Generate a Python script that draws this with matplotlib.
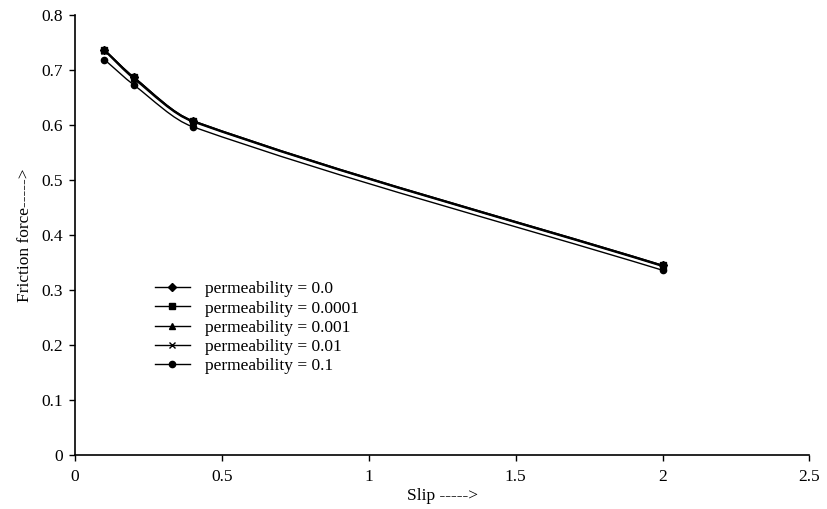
import numpy as np
import matplotlib.pyplot as plt
from matplotlib.path import Path
from matplotlib.patches import PathPatch

plt.rcParams['font.family'] = ['Liberation Serif', 'DejaVu Serif']

# Datos
slip = [0.1, 0.2, 0.4, 2.0]
etiquetas = ["permeability = 0.0", "permeability = 0.0001", "permeability = 0.001",
             "permeability = 0.01", "permeability = 0.1"]
f_00 = [0.737, 0.687, 0.608, 0.345]
f_00001 = [0.737, 0.687, 0.608, 0.345]
f_0001 = [0.736, 0.686, 0.607, 0.344]
f_001 = [0.735, 0.684, 0.606, 0.343]
f_01 = [0.719, 0.673, 0.597, 0.336]

series = [f_00, f_00001, f_0001, f_001, f_01]
marcadores = ['D', 's', '^', 'x', 'o']
tamanos = [4.5, 4.5, 5, 5, 4.5]


def curva_suave(x, y):
    # Hermite cubica dibujada como Bezier (linea suavizada)
    x = np.asarray(x, float)
    y = np.asarray(y, float)
    h = np.diff(x)
    d = np.diff(y) / h
    m = np.zeros(len(x))
    m[0] = d[0]
    m[-1] = d[-1]
    for k in range(1, len(x) - 1):
        m[k] = (h[k] * d[k] + h[k - 1] * d[k - 1]) / (h[k] + h[k - 1])
    verts = [(x[0], y[0])]
    codes = [Path.MOVETO]
    for k in range(len(x) - 1):
        verts += [(x[k] + h[k] / 3, y[k] + m[k] * h[k] / 3),
                  (x[k + 1] - h[k] / 3, y[k + 1] - m[k + 1] * h[k] / 3),
                  (x[k + 1], y[k + 1])]
        codes += [Path.CURVE4] * 3
    return Path(verts, codes)


fig = plt.figure(figsize=(8.27, 5.09), dpi=100)
ax = fig.add_axes([0.0907, 0.106, 0.888, 0.8645])

for k in range(len(series)):
    ax.add_patch(PathPatch(curva_suave(slip, series[k]), fill=False, edgecolor='black', lw=1.0))
    ax.plot(slip, series[k], linestyle='none', marker=marcadores[k], color='black',
            markersize=tamanos[k], markeredgewidth=1.0)
    ax.plot([], [], color='black', lw=1.0, marker=marcadores[k], markersize=tamanos[k],
            label=etiquetas[k])

ax.set_xlim(0, 2.5)
ax.set_ylim(0, 0.8)
ax.set_xticks([0, 0.5, 1, 1.5, 2, 2.5])
ax.set_xticklabels(["0", "0.5", "1", "1.5", "2", "2.5"])
ax.set_yticks(np.arange(0, 0.81, 0.1))
ax.set_yticklabels(["0", "0.1", "0.2", "0.3", "0.4", "0.5", "0.6", "0.7", "0.8"])
ax.tick_params(labelsize=12.5, length=4, width=1)
ax.tick_params(axis='x', pad=6)
ax.tick_params(axis='y', pad=5)
ax.spines['top'].set_visible(False)
ax.spines['right'].set_visible(False)
ax.spines['left'].set_linewidth(1.2)
ax.spines['bottom'].set_linewidth(1.2)

ax.set_xlabel("Slip ----->", fontsize=12.5, labelpad=2)
ax.set_ylabel("Friction force----->", fontsize=12.5, labelpad=6)

ax.legend(loc='upper left', bbox_to_anchor=(0.097, 0.415), frameon=False, fontsize=12.5,
          handlelength=2.0, handletextpad=0.9, labelspacing=0.18, borderpad=0)

plt.savefig("out.png", dpi=100)
